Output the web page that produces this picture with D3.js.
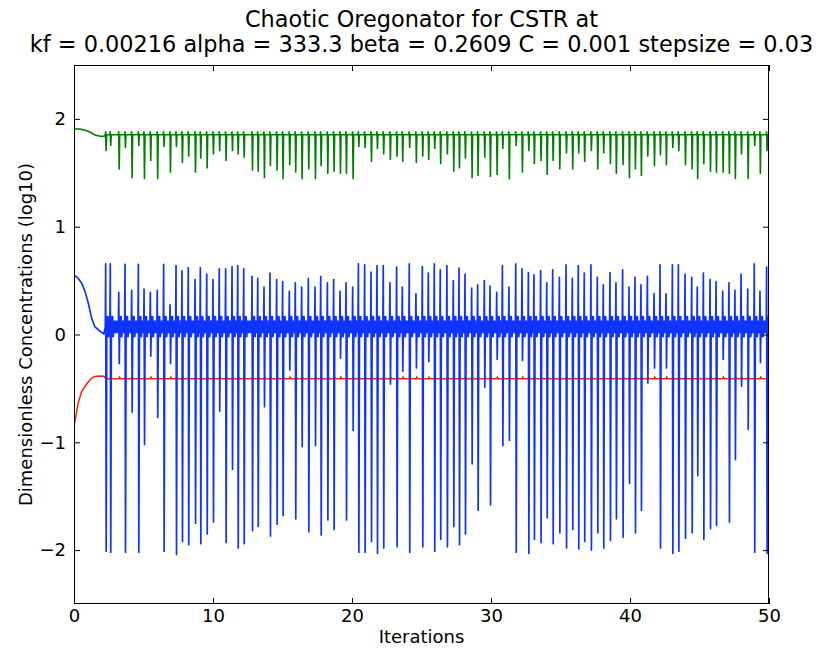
<!DOCTYPE html>
<html><head><meta charset="utf-8">
<script src="https://cdn.jsdelivr.net/npm/d3@7"></script>
<style>
body{margin:0;background:#fff}
svg{display:block}
text{font-family:"DejaVu Sans",sans-serif}
</style>
</head><body>
<svg id="c" width="830" height="650"></svg>
<script>
// ---------- texts & ticks ----------
const titleLines = ["Chaotic Oregonator for CSTR at",
  "kf = 0.00216 alpha = 333.3 beta = 0.2609 C = 0.001 stepsize = 0.03"];
const xLabel = "Iterations";
const yLabel = "Dimensionless Concentrations (log10)";
const xTicks = [0, 10, 20, 30, 40, 50];
const yTicks = [-2, -1, 0, 1, 2];
const xDomain = [0, 50];
const yDomain = [-2.5, 2.5];

// ---------- start-up transient ----------
const transT     = [0, 0.31, 0.55, 0.79, 1.03, 1.27, 1.51, 1.87, 2.16];
const blueStart  = [0.553, 0.52, 0.476, 0.40, 0.29, 0.15, 0.07, 0.03, 0.005];
const greenStart = [1.909, 1.907, 1.903, 1.895, 1.885, 1.869, 1.85, 1.84, 1.838];
const redStart   = [-0.855, -0.63, -0.53, -0.48, -0.44, -0.405, -0.39, -0.385, -0.387];

// ---------- spikes (time, blue peak, blue trough, green dip) ----------
const spikeT = [
  2.28, 2.61, 3.22, 3.67, 4.15, 4.63, 5.04, 5.49, 5.99, 6.45, 6.91, 7.34, 7.77, 8.22, 8.71, 9.09,
  9.55, 10.0, 10.45, 10.91, 11.37, 11.78, 12.21, 12.81, 13.22, 13.67, 14.1, 14.58, 15.01, 15.49, 15.92,
  16.38, 16.86, 17.34, 17.75, 18.23, 18.68, 19.14, 19.57, 20.05, 20.46, 20.91, 21.37, 21.80, 22.25,
  22.73, 23.21, 23.62, 24.12, 24.60, 25.06, 25.49, 25.92, 26.35, 26.83, 27.29, 27.70, 28.13, 28.61,
  29.04, 29.52, 29.93, 30.41, 30.82, 31.29, 31.78, 32.23,
  32.69, 33.09, 33.57, 34.01, 34.44, 34.92, 35.40, 35.85, 36.28, 36.71, 37.19, 37.65, 38.08, 38.56,
  38.99, 39.47, 39.93, 40.36, 40.79, 41.25, 41.73, 42.16, 42.59, 43.05, 43.48, 43.96, 44.44, 44.84,
  45.28, 45.76, 46.19, 46.67, 47.12, 47.55, 47.99, 48.47, 48.94, 49.35, 49.83];
const bluePeak = [
  0.655, 0.655, 0.39, 0.65, 0.41, 0.65, 0.42, 0.39, 0.41, 0.65, 0.275, 0.64, 0.59, 0.62, 0.51, 0.62,
  0.56, 0.51, 0.61, 0.61, 0.63, 0.64, 0.61, 0.54, 0.52, 0.44, 0.57, 0.51, 0.49, 0.40, 0.48,
  0.44, 0.52, 0.44, 0.54, 0.48, 0.51, 0.40, 0.48, 0.44, 0.655, 0.646, 0.58, 0.64, 0.64,
  0.48, 0.625, 0.44, 0.655, 0.377, 0.63, 0.57, 0.655, 0.60, 0.64, 0.50, 0.615, 0.56, 0.43,
  0.46, 0.50, 0.45, 0.39, 0.64, 0.44, 0.655, 0.61,
  0.575, 0.553, 0.593, 0.48, 0.60, 0.53, 0.646, 0.52, 0.64, 0.57, 0.646, 0.53, 0.46, 0.575,
  0.48, 0.60, 0.44, 0.53, 0.46, 0.54, 0.38, 0.646, 0.377, 0.646, 0.646, 0.56, 0.53, 0.44,
  0.57, 0.51, 0.49, 0.40, 0.48, 0.41, 0.56, 0.42, 0.655, 0.40, 0.625];
const blueTrough = [
  -2.01, -2.02, -0.27, -2.02, -0.72, -2.02, -1.02, -0.2, -0.77, -2.01, -0.27, -2.04, -1.92, -1.95, -1.75, -1.94,
  -1.85, -1.74, -0.71, -1.93, -1.25, -1.98, -1.94, -1.82, -1.78, -0.67, -1.87, -1.76, -1.68, -0.33, -1.71,
  -1.04, -1.83, -1.03, -1.86, -1.72, -1.81, -0.22, -1.72, -0.89, -2.02, -2.02, -1.92, -2.03, -1.98,
  -0.46, -1.97, -0.34, -2.02, -0.31, -1.97, -0.25, -2.01, -1.90, -1.97, -1.78, -1.95, -1.85, -1.20,
  -1.63, -0.49, -1.58, -0.23, -1.03, -0.98, -2.02, -0.24,
  -2.03, -1.90, -1.93, -1.70, -1.94, -1.84, -1.98, -1.81, -1.99, -1.92, -2.00, -1.84, -1.98, -1.91,
  -1.71, -1.88, -1.38, -1.84, -1.63, -0.45, -0.31, -1.98, -0.31, -2.03, -2.01, -1.89, -1.84, -1.31,
  -1.90, -1.80, -1.77, -0.23, -1.74, -1.16, -0.48, -0.88, -2.02, -0.26, -2.03];
const greenDip = [
  1.70, 1.75, 1.53, 1.73, 1.45, 1.75, 1.44, 1.61, 1.44, 1.74, 1.50, 1.74, 1.59, 1.65, 1.50, 1.63,
  1.54, 1.67, 1.70, 1.61, 1.70, 1.67, 1.64, 1.52, 1.51, 1.45, 1.56, 1.52, 1.44, 1.57, 1.50,
  1.44, 1.53, 1.44, 1.56, 1.49, 1.51, 1.49, 1.49, 1.44, 1.74, 1.73, 1.60, 1.72, 1.67,
  1.62, 1.65, 1.60, 1.73, 1.59, 1.65, 1.62, 1.72, 1.58, 1.67, 1.51, 1.54, 1.63, 1.45,
  1.47, 1.64, 1.46, 1.48, 1.72, 1.44, 1.75, 1.50,
  1.70, 1.58, 1.61, 1.48, 1.61, 1.53, 1.68, 1.53, 1.68, 1.60, 1.70, 1.53, 1.68, 1.58,
  1.49, 1.57, 1.45, 1.53, 1.47, 1.65, 1.56, 1.66, 1.57, 1.73, 1.70, 1.57, 1.53, 1.44,
  1.58, 1.51, 1.50, 1.50, 1.49, 1.44, 1.67, 1.44, 1.75, 1.49, 1.70];

// baseline levels between spikes
const blueBand  = [0.012, 0.13];    // thick noisy band around zero
const blueMid   = 0.07;
const blueRing  = [0.165, -0.02];   // short ringing right after a spike
const greenBase = 1.853, greenCrest = 1.885;
const redBase   = -0.41, redCrest = -0.395;

const colors = {blue: "#1133ff", green: "#008000", red: "#ff2200"};

// ---------- layout ----------
const svg = d3.select("#c");
const M = {left: 74, right: 769, top: 65, bottom: 604};
const x = d3.scaleLinear().domain(xDomain).range([M.left, M.right]);
const y = d3.scaleLinear().domain(yDomain).range([M.bottom, M.top]);

svg.append("defs").append("clipPath").attr("id", "clip")
  .append("rect").attr("x", M.left).attr("y", M.top)
  .attr("width", M.right - M.left).attr("height", M.bottom - M.top);

// ---------- build series from data ----------
const bluePts = transT.map((t, i) => [t, blueStart[i]]);
const greenPts = transT.map((t, i) => [t, greenStart[i]]);
const redPts = transT.map((t, i) => [t, redStart[i]]);
spikeT.forEach((t, i) => {
  bluePts.push([t - 0.03, blueMid], [t, bluePeak[i]], [t + 0.035, blueTrough[i]],
               [t + 0.08, blueRing[0]], [t + 0.12, blueRing[1]], [t + 0.17, blueRing[0]],
               [t + 0.22, blueRing[1]], [t + 0.27, blueMid]);
  greenPts.push([t - 0.03, greenBase], [t - 0.005, greenCrest], [t + 0.03, greenDip[i]], [t + 0.07, greenBase]);
  redPts.push([t, redBase], [t + 0.05, redCrest], [t + 0.12, redBase]);
});
bluePts.push([xDomain[1], blueMid]);
greenPts.push([xDomain[1], greenBase]);
redPts.push([xDomain[1], redBase]);

const line = d3.line().x(d => x(d[0])).y(d => y(d[1]));
const plot = svg.append("g").attr("clip-path", "url(#clip)");

plot.append("path").attr("d", line(redPts)).attr("fill", "none")
  .attr("stroke", colors.red).attr("stroke-width", 1.5);
plot.append("path").attr("d", line(greenPts)).attr("fill", "none")
  .attr("stroke", colors.green).attr("stroke-width", 1.6);

const band = d3.area().x(d => x(d)).y0(y(blueBand[0])).y1(y(blueBand[1]));
plot.append("path").attr("d", band([spikeT[0] - 0.03, xDomain[1]]))
  .attr("fill", colors.blue);
plot.append("path").attr("d", line(bluePts)).attr("fill", "none")
  .attr("stroke", colors.blue).attr("stroke-width", 1.7).attr("stroke-linejoin", "round");

// ---------- axes ----------
const fs = 18;
const fmt = d3.format("d");
function styleAxis(g, labels) {
  g.select(".domain").remove();
  g.selectAll(".tick line").attr("stroke", "#000").attr("stroke-width", 1);
  g.selectAll(".tick text").attr("font-size", fs).attr("fill", "#000")
    .attr("font-family", "DejaVu Sans");
  if (!labels) g.selectAll(".tick text").remove();
}
svg.append("g").attr("transform", `translate(0,${M.bottom})`)
  .call(d3.axisBottom(x).tickValues(xTicks).tickFormat(fmt).tickSizeInner(-6).tickSizeOuter(0).tickPadding(5))
  .call(g => styleAxis(g, true));
svg.append("g").attr("transform", `translate(0,${M.top})`)
  .call(d3.axisTop(x).tickValues(xTicks).tickSizeInner(-6).tickSizeOuter(0))
  .call(g => styleAxis(g, false));
svg.append("g").attr("transform", `translate(${M.left},0)`)
  .call(d3.axisLeft(y).tickValues(yTicks).tickFormat(fmt).tickSizeInner(-6).tickSizeOuter(0).tickPadding(8))
  .call(g => styleAxis(g, true));
svg.append("g").attr("transform", `translate(${M.right},0)`)
  .call(d3.axisRight(y).tickValues(yTicks).tickSizeInner(-6).tickSizeOuter(0))
  .call(g => styleAxis(g, false));

svg.append("rect").attr("x", M.left + 0.5).attr("y", M.top + 0.5)
  .attr("width", M.right - M.left - 1).attr("height", M.bottom - M.top - 1)
  .attr("fill", "none").attr("stroke", "#000").attr("stroke-width", 1);

// ---------- labels ----------
const cx = (M.left + M.right) / 2;
svg.append("text").attr("x", cx).attr("y", 27).attr("text-anchor", "middle")
  .attr("font-size", 22.4).text(titleLines[0]);
svg.append("text").attr("x", cx).attr("y", 52).attr("text-anchor", "middle")
  .attr("font-size", 22.4).text(titleLines[1]);
svg.append("text").attr("x", cx).attr("y", 643).attr("text-anchor", "middle")
  .attr("font-size", fs).text(xLabel);
svg.append("text").attr("transform", `translate(32,${(M.top + M.bottom) / 2}) rotate(-90)`)
  .attr("text-anchor", "middle").attr("font-size", fs).text(yLabel);
</script>
</body></html>
